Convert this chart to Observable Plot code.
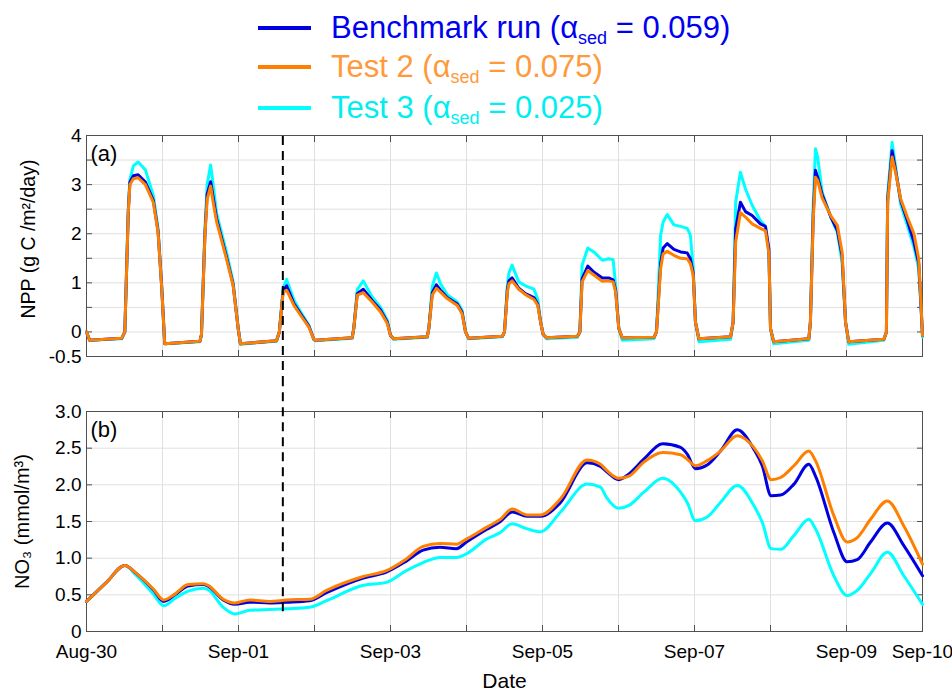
<!DOCTYPE html>
<html><head><meta charset="utf-8">
<script src="https://cdn.jsdelivr.net/npm/d3@7"></script>
<script src="https://cdn.jsdelivr.net/npm/@observablehq/plot@0.6"></script>
<style>
body{margin:0;background:#fff;font-family:"Liberation Sans",Arial,sans-serif;}
#wrap{position:relative;width:952px;height:692px;overflow:hidden;background:#fff;}
.row{position:absolute;left:258px;height:40px;display:flex;align-items:center;font-size:31px;white-space:nowrap;}
.swatch{width:53px;height:4px;margin-right:20px;}
.row sub{font-size:18px;vertical-align:-6px;line-height:0;}
#pa{position:absolute;left:0;top:128px;}
#pb{position:absolute;left:0;top:385px;}
</style></head>
<body>
<div id="wrap">
  <div id="legend"></div>
  <div id="pa"></div>
  <div id="pb"></div>
</div>
<script>
// ---------- data ----------
const seriesNames = ["Benchmark run", "Test 2", "Test 3"];
const alphaSed = ["0.059", "0.075", "0.025"];
const lineColors = ["#0000e0", "#ff8000", "#00ffff"];
const textColors = ["#0000f0", "#ff9a3c", "#00eef0"];

// hours since Aug-30 00:00
const nppHours = [
0, 1.0, 11.1, 12.1, 13.2, 13.7, 14.8, 16.3, 18.6, 21.1, 22.6, 23.7, 24.7,
35.8, 36.3, 37.4, 38.1, 39.2, 40.1, 41.1, 44.2, 46.3, 47.9, 48.6,
60.0, 60.9, 62.1, 63.2, 65.5, 67.6, 70.2, 71.8, 72.3,
83.9, 84.4, 85.5, 87.4, 90.2, 92.8, 95.0, 96.0, 97.0,
107.6, 108.1, 109.2, 110.5, 111.8, 113.9, 117.1, 118.6, 119.7, 120.7,
131.3, 132.0, 132.9, 133.4, 134.4, 136.5, 138.6, 141.3, 142.5, 143.4, 144.2, 145.3,
155.0, 155.8, 156.5, 158.3, 160.2, 162.9, 164.9, 166.3, 167.1, 168.1, 169.2,
179.2, 180.0, 181.3, 182.1, 183.4, 185.5, 187.6, 189.7, 190.7, 191.6, 192.3, 193.4,
203.4, 204.2, 205.0, 206.5, 208.1, 210.2, 212.8, 214.4, 215.5, 216.0, 217.0,
228.1, 228.6, 229.5, 230.2, 230.9, 232.3, 235.0, 237.1, 238.6, 239.7, 240.7,
251.8, 252.6, 253.0, 254.4, 255.5, 257.1, 259.2, 261.3, 262.8, 263.6, 264.0
];
const nppBenchmark = [
0, -0.17, -0.13, 0, 2.46, 3.05, 3.18, 3.2, 3.05, 2.68, 2.05, 0.97, -0.24,
-0.19, -0.06, 2.0, 2.8, 3.06, 2.7, 2.3, 1.53, 0.97, 0.07, -0.24,
-0.18, 0, 0.84, 0.94, 0.58, 0.37, 0.12, -0.15, -0.17,
-0.12, 0.07, 0.78, 0.87, 0.64, 0.45, 0.2, -0.07, -0.14,
-0.10, 0.07, 0.8, 0.96, 0.85, 0.70, 0.57, 0.40, 0.0, -0.13,
-0.09, 0.0, 0.86, 1.04, 1.1, 0.89, 0.78, 0.70, 0.57, 0.2, -0.05, -0.12,
-0.09, 0.0, 1.08, 1.34, 1.22, 1.10, 1.1, 1.06, 0.85, 0.07, -0.12,
-0.11, 0.0, 1.39, 1.71, 1.80, 1.68, 1.63, 1.61, 1.49, 1.2, 0.2, -0.14,
-0.10, 0.2, 2.1, 2.64, 2.45, 2.37, 2.2, 2.15, 1.69, 0.07, -0.2,
-0.14, 0.2, 2.4, 3.29, 3.15, 2.8, 2.35, 2.07, 1.55, 0.2, -0.2,
-0.15, 0.0, 2.7, 3.69, 3.29, 2.68, 2.27, 1.83, 1.4, 0.45, -0.07
];
const nppTest2 = [
0, -0.17, -0.13, 0, 2.44, 3.0, 3.12, 3.14, 3.0, 2.64, 2.03, 0.95, -0.24,
-0.19, -0.06, 1.97, 2.7, 2.97, 2.6, 2.24, 1.49, 0.95, 0.07, -0.24,
-0.18, 0, 0.81, 0.85, 0.54, 0.34, 0.10, -0.15, -0.17,
-0.12, 0.07, 0.75, 0.80, 0.61, 0.41, 0.17, -0.07, -0.14,
-0.10, 0.07, 0.75, 0.89, 0.81, 0.68, 0.54, 0.37, 0.0, -0.13,
-0.09, 0.0, 0.81, 0.98, 1.04, 0.87, 0.76, 0.66, 0.54, 0.2, -0.05, -0.12,
-0.09, 0.0, 1.02, 1.25, 1.16, 1.03, 1.04, 1.02, 0.81, 0.07, -0.12,
-0.11, 0.0, 1.29, 1.59, 1.64, 1.56, 1.50, 1.49, 1.39, 1.15, 0.2, -0.14,
-0.10, 0.2, 1.83, 2.43, 2.34, 2.2, 2.11, 2.06, 1.6, 0.07, -0.2,
-0.14, 0.2, 2.3, 3.15, 3.08, 2.73, 2.37, 2.17, 1.63, 0.2, -0.2,
-0.15, 0.0, 2.64, 3.56, 3.25, 2.71, 2.34, 2.0, 1.49, 0.48, -0.07
];
const nppTest3 = [
0, -0.17, -0.14, 0, 2.5, 3.1, 3.38, 3.46, 3.3, 2.78, 2.1, 1.0, -0.24,
-0.2, -0.06, 2.1, 3.0, 3.40, 2.95, 2.41, 1.63, 1.02, 0.08, -0.25,
-0.19, 0, 0.9, 1.07, 0.65, 0.41, 0.14, -0.16, -0.18,
-0.13, 0.07, 0.86, 1.04, 0.71, 0.51, 0.24, -0.07, -0.15,
-0.11, 0.07, 0.93, 1.2, 0.98, 0.76, 0.61, 0.44, 0.0, -0.14,
-0.10, 0.0, 0.95, 1.2, 1.36, 1.02, 0.94, 0.87, 0.67, 0.22, -0.05, -0.14,
-0.11, 0.0, 1.36, 1.71, 1.63, 1.46, 1.49, 1.47, 0.95, 0.07, -0.17,
-0.14, 0.0, 1.97, 2.24, 2.39, 2.18, 2.15, 2.11, 1.97, 1.3, 0.2, -0.2,
-0.15, 0.2, 2.64, 3.25, 2.91, 2.58, 2.27, 2.15, 1.6, 0.07, -0.24,
-0.17, 0.2, 2.64, 3.73, 3.56, 2.85, 2.34, 2.03, 1.42, 0.2, -0.25,
-0.17, 0.0, 2.8, 3.86, 3.37, 2.6, 2.17, 1.73, 1.29, 0.4, -0.1
];

const no3Hours = [0, 6.3, 12.1, 15.8, 21.1, 24.4, 27.9, 32.1, 36.8, 38.4, 43.2, 46.8, 51.6, 57.9, 63.2, 70.5, 75.8, 87.4, 94.7, 101, 106.3, 111.6, 116.8, 120, 126.3, 130.7, 134.4, 139.2, 143.4, 149.7, 158.1, 162.3, 164.2, 168.1, 171.3, 176, 182, 187.6, 189.7, 192.3, 196, 200.2, 205.5, 210.7, 213.4, 216.2, 219.2, 223.4, 228.1, 230.2, 236, 240.2, 243.4, 247.6, 252.9, 258.1, 264];
const no3Benchmark = [0.41, 0.67, 0.90, 0.79, 0.57, 0.41, 0.50, 0.62, 0.64, 0.62, 0.43, 0.37, 0.40, 0.39, 0.40, 0.42, 0.53, 0.73, 0.81, 0.96, 1.11, 1.15, 1.13, 1.22, 1.39, 1.50, 1.63, 1.57, 1.57, 1.76, 2.30, 2.25, 2.18, 2.07, 2.15, 2.35, 2.56, 2.51, 2.42, 2.22, 2.27, 2.46, 2.75, 2.49, 2.26, 1.85, 1.86, 2.01, 2.28, 2.12, 1.35, 0.95, 0.98, 1.22, 1.48, 1.17, 0.76];
const no3Test2 = [0.41, 0.67, 0.90, 0.79, 0.58, 0.43, 0.51, 0.64, 0.65, 0.63, 0.44, 0.39, 0.43, 0.41, 0.43, 0.44, 0.56, 0.75, 0.83, 0.99, 1.16, 1.20, 1.19, 1.26, 1.42, 1.53, 1.67, 1.59, 1.59, 1.81, 2.34, 2.28, 2.20, 2.09, 2.12, 2.31, 2.44, 2.41, 2.35, 2.26, 2.33, 2.46, 2.67, 2.51, 2.33, 2.07, 2.10, 2.26, 2.46, 2.33, 1.58, 1.22, 1.28, 1.53, 1.78, 1.44, 0.92];
const no3Test3 = [0.41, 0.67, 0.90, 0.76, 0.51, 0.35, 0.45, 0.55, 0.59, 0.57, 0.33, 0.24, 0.29, 0.30, 0.31, 0.33, 0.42, 0.63, 0.67, 0.83, 0.94, 1.01, 1.01, 1.06, 1.26, 1.35, 1.47, 1.40, 1.36, 1.63, 2.01, 1.97, 1.83, 1.68, 1.72, 1.90, 2.09, 1.90, 1.76, 1.51, 1.56, 1.76, 1.99, 1.72, 1.49, 1.13, 1.12, 1.31, 1.53, 1.40, 0.76, 0.49, 0.56, 0.79, 1.08, 0.76, 0.37];

const dayTickHours = [0, 24, 48, 72, 96, 120, 144, 168, 192, 216, 240, 264];
const labelTickHours = [0, 48, 96, 144, 192, 240, 264];
const nppGridTicks = [-0.5, 0, 0.5, 1, 1.5, 2, 2.5, 3, 3.5, 4];
const nppLabelTicks = [-0.5, 0, 1, 2, 3, 4];
const no3Ticks = [0, 0.5, 1, 1.5, 2, 2.5, 3];
const markerHour = 62;       // dashed vertical marker
const markerNo3Bottom = 0.27;
const panelLabels = ["(a)", "(b)"];
const yLabelA = "NPP (g C /m\u00B2/day)";
const yLabelB = "NO\u2083 (mmol/m\u00B3)";
const xLabel = "Date";

// ---------- helpers ----------
const base = Date.UTC(2015, 7, 30);
const toDate = h => new Date(base + h * 3600e3);
const mk = (hours, vals) => hours.map((h, i) => ({t: toDate(h), v: vals[i]}));
const font = "'Liberation Sans', Arial, sans-serif";

// ---------- legend ----------
const legend = document.getElementById("legend");
const rowTops = [8, 47, 88];
seriesNames.forEach((n, i) => {
  const r = document.createElement("div");
  r.className = "row";
  r.style.top = rowTops[i] + "px";
  r.innerHTML = `<span class="swatch" style="background:${lineColors[i]}"></span><span style="color:${textColors[i]}">${n} (\u03B1<sub>sed</sub> = ${alphaSed[i]})</span>`;
  legend.appendChild(r);
});

const fmtDay = d3.utcFormat("%b-%d");
const domainX = [toDate(0), toDate(264)];
const gridColor = "#e0e0e0";
const frameColor = "#505050";

function commonMarks(yGrid, yLabels, yFmt) {
  return [
    Plot.gridY(yGrid, {stroke: gridColor, strokeOpacity: 1}),
    Plot.gridX(dayTickHours.map(toDate), {stroke: gridColor, strokeOpacity: 1}),
    Plot.axisY(yGrid, {anchor: "left", tickSize: 6, dx: 6, fill: "none", tickFormat: () => "", label: null, stroke: frameColor}),
    Plot.axisY(yGrid, {anchor: "right", tickSize: 6, dx: -6, fill: "none", tickFormat: () => "", label: null, stroke: frameColor}),
    Plot.axisX(dayTickHours.map(toDate), {anchor: "top", tickSize: 6, dy: 6, fill: "none", tickFormat: () => "", label: null, stroke: frameColor}),
    Plot.axisX(dayTickHours.map(toDate), {anchor: "bottom", tickSize: 6, dy: -6, fill: "none", tickFormat: () => "", label: null, stroke: frameColor}),
    Plot.axisY(yLabels, {anchor: "left", tickSize: 0, tickPadding: 5, tickFormat: yFmt, fontSize: 19, label: null}),
    Plot.frame({stroke: frameColor})
  ];
}

// ---------- panel (a) ----------
const hA = 257, mtA = 7, mbA = 29;
const pxPerUnitA = (hA - mtA - mbA) / 4.5;
const pa = Plot.plot({
  width: 952, height: hA, marginLeft: 86, marginRight: 30, marginTop: mtA, marginBottom: mbA,
  style: {fontFamily: font, color: "black", background: "transparent", overflow: "visible"},
  x: {type: "utc", domain: domainX, label: null},
  y: {domain: [-0.5, 4], label: null},
  marks: [
    ...commonMarks(nppGridTicks, nppLabelTicks, d => String(d)),
    Plot.line(mk(nppHours, nppTest3), {x: "t", y: "v", stroke: lineColors[2], strokeWidth: 3}),
    Plot.line(mk(nppHours, nppBenchmark), {x: "t", y: "v", stroke: lineColors[0], strokeWidth: 3}),
    Plot.line(mk(nppHours, nppTest2), {x: "t", y: "v", stroke: lineColors[1], strokeWidth: 3}),
    Plot.ruleX([toDate(markerHour)], {y1: -0.5 - mbA / pxPerUnitA, y2: 4, stroke: "black", strokeWidth: 2, strokeDasharray: "9,6"}),
    Plot.text([panelLabels[0]], {frameAnchor: "top-left", dx: 4, dy: 18, fontSize: 22, textAnchor: "start", lineAnchor: "middle"}),
    Plot.text([yLabelA], {frameAnchor: "left", rotate: -90, dx: -58, dy: -7, fontSize: 19.5, textAnchor: "middle", lineAnchor: "middle"})
  ]
});
document.getElementById("pa").appendChild(pa);

// ---------- panel (b) ----------
const hB = 307, mtB = 26, mbB = 61;
const pxPerUnitB = (hB - mtB - mbB) / 3;
const pb = Plot.plot({
  width: 952, height: hB, marginLeft: 86, marginRight: 30, marginTop: mtB, marginBottom: mbB,
  style: {fontFamily: font, color: "black", background: "transparent", overflow: "visible"},
  x: {type: "utc", domain: domainX, label: null},
  y: {domain: [0, 3], label: null},
  marks: [
    ...commonMarks(no3Ticks, no3Ticks, d => d === 0 ? "0" : d.toFixed(1)),
    Plot.axisX(labelTickHours.map(toDate), {anchor: "bottom", tickSize: 0, tickPadding: 13, tickFormat: fmtDay, fontSize: 19, label: null}),
    Plot.line(mk(no3Hours, no3Test3), {x: "t", y: "v", stroke: lineColors[2], strokeWidth: 3, curve: "monotone-x"}),
    Plot.line(mk(no3Hours, no3Benchmark), {x: "t", y: "v", stroke: lineColors[0], strokeWidth: 3, curve: "monotone-x"}),
    Plot.line(mk(no3Hours, no3Test2), {x: "t", y: "v", stroke: lineColors[1], strokeWidth: 3, curve: "monotone-x"}),
    Plot.ruleX([toDate(markerHour)], {y1: markerNo3Bottom, y2: 3 + mtB / pxPerUnitB, stroke: "black", strokeWidth: 2, strokeDasharray: "9,6"}),
    Plot.text([panelLabels[1]], {frameAnchor: "top-left", dx: 4, dy: 18, fontSize: 22, textAnchor: "start", lineAnchor: "middle"}),
    Plot.text([yLabelB], {frameAnchor: "left", rotate: -90, dx: -64, fontSize: 20, textAnchor: "middle", lineAnchor: "middle"}),
    Plot.text([xLabel], {frameAnchor: "bottom", dy: 50, fontSize: 21, textAnchor: "middle", lineAnchor: "middle"})
  ]
});
document.getElementById("pb").appendChild(pb);
</script>
</body></html>
